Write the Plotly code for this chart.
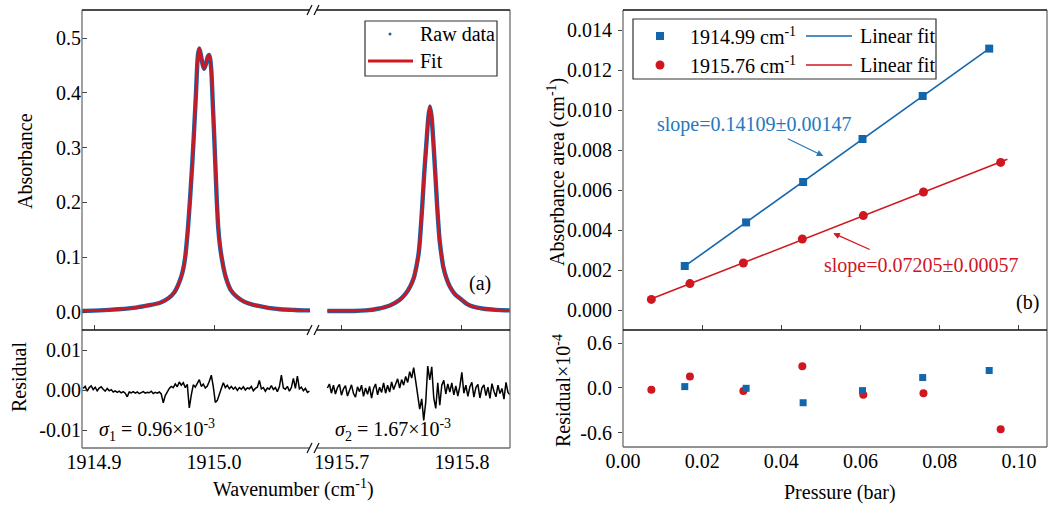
import numpy as np
import plotly.graph_objects as go

W, H = 1049, 509
FONT = "Liberation Serif, Times New Roman, serif"
BLUE = "#1466ac"
BLUE_T = "#2478bd"
RED = "#d0161e"

# ---------------- panel (a): spectrum ----------------
wn_left = [1914.890, 1914.905, 1914.920, 1914.935, 1914.945, 1914.955, 1914.962, 1914.967,
           1914.971, 1914.974, 1914.976, 1914.978, 1914.980, 1914.982, 1914.9835, 1914.985,
           1914.986, 1914.9868, 1914.9878, 1914.9890, 1914.9905, 1914.9918, 1914.9932,
           1914.9948, 1914.9958, 1914.9968, 1914.9978, 1914.9988, 1915.0000, 1915.0011,
           1915.0022, 1915.0035, 1915.0050, 1915.0065, 1915.0085, 1915.0106, 1915.0140,
           1915.0189, 1915.0250, 1915.0328, 1915.0400, 1915.0467, 1915.0550, 1915.0650,
           1915.0750, 1915.0800]
abs_left = [0.002, 0.003, 0.005, 0.008, 0.012, 0.017, 0.025, 0.036,
            0.054, 0.075, 0.100, 0.145, 0.205, 0.275, 0.335, 0.400,
            0.450, 0.472, 0.481, 0.470, 0.452, 0.444, 0.452,
            0.466, 0.469, 0.462, 0.440, 0.390, 0.330, 0.270,
            0.210, 0.155, 0.120, 0.098, 0.075, 0.058, 0.040,
            0.028, 0.019, 0.013, 0.010, 0.007, 0.005, 0.004,
            0.003, 0.003]

wn_right = [1915.688, 1915.700, 1915.710, 1915.720, 1915.730, 1915.740, 1915.748, 1915.753,
            1915.757, 1915.760, 1915.762, 1915.764, 1915.765, 1915.7669, 1915.7686, 1915.7706,
            1915.7720, 1915.7733, 1915.7747, 1915.7761, 1915.7778, 1915.7794, 1915.7814,
            1915.7830, 1915.7844, 1915.7870, 1915.7900, 1915.7940, 1915.7983, 1915.8040,
            1915.8094, 1915.8180, 1915.8280, 1915.8400]
abs_right = [0.002, 0.002, 0.002, 0.003, 0.006, 0.012, 0.022, 0.033,
             0.047, 0.063, 0.082, 0.108, 0.131, 0.192, 0.253, 0.314,
             0.355, 0.375, 0.357, 0.314, 0.253, 0.192, 0.131,
             0.103, 0.083, 0.062, 0.046, 0.033, 0.025, 0.015,
             0.0097, 0.006, 0.004, 0.003]

# residuals (x 1e-3), sampled on a uniform grid in each window
res_left_start, res_left_end = 1914.891, 1915.0795
res_left = [0.4, 0.9, -0.3, 0.6, 1.0, 0.1, 0.7, -0.2, 0.5, 0.8,
            0.2, -0.3, 0.4, -0.2, 0.1, -0.5, -0.2, -0.6, -0.3, -0.7,
            -0.4, -0.8, -1.7, -0.5, -0.7, -0.4, -0.8, -0.5, -0.9, -0.6,
            -0.4, -0.8, -0.6, -0.7, -0.3, -0.9, -0.6, -0.8, -0.5, -1.0,
            -3.2, -1.4, -0.3, 0.4, 0.9, 0.6, 1.5, 0.8, 2.0, 1.2,
            1.8, 0.6, 1.4, -4.5, -1.2, 1.3, 0.7, 1.8, 2.6, 0.9,
            1.5, 0.5, 1.0, 2.2, 3.7, 0.8, -3.1, -2.6, -0.8, 0.4,
            1.8, 0.6, 1.2, 0.3, 0.9, 0.2, 0.7, -0.1, 0.6, 0.2,
            0.8, 0.0, 0.5, 0.3, 0.9, -0.2, 0.4, 0.7, 2.4, 0.3,
            0.6, -0.3, 0.5, 0.2, 1.1, 0.1, 0.6, -0.4, 0.8, 3.7,
            0.5, 0.2, 0.9, -0.3, 0.6, 2.9, 0.4, 3.5, 0.3, 0.7,
            -0.2, 0.4, -0.6, -0.3]
res_right_start, res_right_end = 1915.688, 1915.840
res_right = [0.5, 1.5, -0.8, 1.2, -1.0, 0.6, 1.4, -1.3, 0.3, 1.1,
             -1.5, 0.2, 1.3, -0.9, -1.8, 0.8, -0.4, 1.2, -1.6, 0.5,
             -1.1, 0.9, -2.0, 0.4, 1.5, -1.2, 0.7, -0.6, 1.8, -0.8,
             1.2, -0.5, 2.0, 0.1, 1.6, 2.8, 0.5, 2.6, 1.2, 3.4,
             1.9, 4.6, 3.0, 5.6, 2.2, -1.5, -4.8, -2.2, -7.6, -3.0,
             6.0, 2.5, 5.8, -2.0, -4.6, 1.8, -3.8, 1.2, 2.4, -1.0,
             1.5, -0.5, 1.8, -1.2, 1.0, -1.5, 0.9, 4.4, -0.8, 1.2,
             -1.6, 0.8, 1.9, -1.8, 0.6, 1.4, -2.0, 0.5, 1.3, -1.4,
             0.7, -2.1, 1.6, -0.3, -1.7, 1.2, -0.9, 0.4, -2.3, 1.9,
             -0.6, -1.2]

left_ticks = [1914.9, 1915.0]
right_ticks = [1915.7, 1915.8]
abs_ticks = [0.0, 0.1, 0.2, 0.3, 0.4, 0.5]
res_ticks = [-0.01, 0.0, 0.01]
res_tick_text = ["-0.01", "0.00", "0.01"]

# ---------------- panel (b): absorbance area vs pressure ----------------
p_blue = [0.0156, 0.0311, 0.0455, 0.0605, 0.0757, 0.0925]
area_blue = [0.00220, 0.00438, 0.00640, 0.00855, 0.01070, 0.01307]
resid_blue = [0.018, -0.005, -0.199, -0.036, 0.140, 0.235]

p_red = [0.00716, 0.0169, 0.0304, 0.0453, 0.0607, 0.0759, 0.0954]
area_red = [0.00053, 0.00132, 0.00235, 0.00355, 0.00472, 0.00590, 0.00738]
resid_red = [-0.023, 0.153, -0.040, 0.293, -0.090, -0.072, -0.555]

fit_blue_x = [0.0156, 0.0925]
fit_red_x = [0.0072, 0.0971]

p_ticks = [0.00, 0.02, 0.04, 0.06, 0.08, 0.10]
area_ticks = [0.000, 0.002, 0.004, 0.006, 0.008, 0.010, 0.012, 0.014]
rb_ticks = [-0.6, 0.0, 0.6]
rb_tick_text = ["-0.6", "0.0", "0.6"]

# ---------------- geometry helpers (pixels -> paper) ----------------
def px(x):
    return x / W

def py(y):
    return 1 - y / H

LA, LB, LC = 82, 313, 510      # left panel: left edge, break, right edge
RA, RC = 623, 1047             # right panel
TOP, MID, BOT_L, BOT_R = 10, 330, 448, 447

fig = go.Figure()

# spectrum: raw (blue, broad) under fit (red)
for xs, ys, xa in [(wn_left, abs_left, "x"), (wn_right, abs_right, "x2")]:
    fig.add_trace(go.Scatter(x=xs, y=ys, xaxis=xa, yaxis="y", mode="lines",
                             line=dict(color=BLUE, width=4.4, shape="spline", smoothing=0.6),
                             name="Raw data", showlegend=False))
    fig.add_trace(go.Scatter(x=xs, y=ys, xaxis=xa, yaxis="y", mode="lines",
                             line=dict(color=RED, width=2.8, shape="spline", smoothing=0.6),
                             name="Fit", showlegend=False))

rl = np.array(res_left) * 1e-3
rr = np.array(res_right) * 1e-3
fig.add_trace(go.Scatter(x=np.linspace(res_left_start, res_left_end, len(rl)), y=rl,
                         xaxis="x3", yaxis="y2", mode="lines",
                         line=dict(color="black", width=1.5), showlegend=False))
fig.add_trace(go.Scatter(x=np.linspace(res_right_start, res_right_end, len(rr)), y=rr,
                         xaxis="x4", yaxis="y2", mode="lines",
                         line=dict(color="black", width=1.5), showlegend=False))

# panel b: linear fits
kb = np.polyfit(p_blue, area_blue, 1)
kr = np.polyfit(p_red, area_red, 1)
fig.add_trace(go.Scatter(x=fit_blue_x, y=np.polyval(kb, fit_blue_x), xaxis="x5", yaxis="y3",
                         mode="lines", line=dict(color=BLUE, width=1.6), showlegend=False))
fig.add_trace(go.Scatter(x=fit_red_x, y=np.polyval(kr, fit_red_x), xaxis="x5", yaxis="y3",
                         mode="lines", line=dict(color=RED, width=1.6), showlegend=False))
fig.add_trace(go.Scatter(x=p_blue, y=area_blue, xaxis="x5", yaxis="y3", mode="markers",
                         marker=dict(symbol="square", size=8, color=BLUE), showlegend=False))
fig.add_trace(go.Scatter(x=p_red, y=area_red, xaxis="x5", yaxis="y3", mode="markers",
                         marker=dict(symbol="circle", size=9, color=RED), showlegend=False))
fig.add_trace(go.Scatter(x=p_red, y=resid_red, xaxis="x6", yaxis="y4", mode="markers",
                         marker=dict(symbol="circle", size=8, color=RED), showlegend=False))
fig.add_trace(go.Scatter(x=p_blue, y=resid_blue, xaxis="x6", yaxis="y4", mode="markers",
                         marker=dict(symbol="square", size=7, color=BLUE), showlegend=False))

tickfont = dict(family=FONT, size=20, color="black")
common = dict(showgrid=False, zeroline=False, showline=False, tickfont=tickfont,
              tickcolor="#444", ticklen=5, tickwidth=1.2, automargin=False)

fig.update_layout(
    width=W, height=H, margin=dict(l=0, r=0, t=0, b=0, autoexpand=False),
    plot_bgcolor="white", paper_bgcolor="white", showlegend=False,
    font=dict(family=FONT, size=20, color="black"),
    xaxis=dict(domain=[px(LA), px(LB)], range=[1914.89, 1915.0825], anchor="y",
               tickvals=left_ticks, ticks="inside", showticklabels=False, **common),
    xaxis2=dict(domain=[px(LB), px(LC)], range=[1915.676, 1915.84], anchor="y",
                tickvals=right_ticks, ticks="inside", showticklabels=False, **common),
    xaxis3=dict(domain=[px(LA), px(LB)], range=[1914.89, 1915.0825], anchor="y2",
                tickvals=left_ticks, tickformat=".1f", ticks="", **common),
    xaxis4=dict(domain=[px(LB), px(LC)], range=[1915.676, 1915.84], anchor="y2",
                tickvals=right_ticks, tickformat=".1f", ticks="", **common),
    yaxis=dict(domain=[py(MID), py(TOP)], range=[-0.0328, 0.5511], anchor="x",
               tickvals=abs_ticks, tickformat=".1f", ticks="inside", **common),
    yaxis2=dict(domain=[py(BOT_L), py(MID)], range=[-0.0145, 0.015], anchor="x3",
                tickvals=res_ticks, ticktext=res_tick_text, ticks="inside", **common),
    xaxis5=dict(domain=[px(RA), px(RC)], range=[0, 0.1071], anchor="y3",
                tickvals=p_ticks, ticks="inside", showticklabels=False, **common),
    yaxis3=dict(domain=[py(MID), py(TOP)], range=[-0.001, 0.015], anchor="x5",
                tickvals=area_ticks, tickformat=".3f", ticks="outside", ticklabelstandoff=2,
                **dict(common, ticklen=4)),
    xaxis6=dict(domain=[px(RA), px(RC)], range=[0, 0.1071], anchor="y4",
                tickvals=p_ticks, tickformat=".2f", ticks="", **common),
    yaxis4=dict(domain=[py(BOT_R), py(MID)], range=[-0.795, 0.78], anchor="x6",
                tickvals=rb_ticks, ticktext=rb_tick_text, ticks="outside", ticklabelstandoff=2,
                **dict(common, ticklen=4)),
)

shapes = []
def seg(x0, y0, x1, y1, color, width=1.3):
    shapes.append(dict(type="line", xref="paper", yref="paper",
                       x0=px(x0), y0=py(y0), x1=px(x1), y1=py(y1),
                       line=dict(color=color, width=width)))

GRAY = "#6e6e6e"
# left frame
seg(LA, TOP, LA, BOT_L, GRAY); seg(LC, TOP, LC, BOT_L, GRAY)
seg(LA, BOT_L, LC, BOT_L, GRAY)
seg(LA, TOP, LC, TOP, "#111"); seg(LA, MID, LC, MID, "#111")
# right frame
seg(RA, TOP, RA, BOT_R, GRAY); seg(RC, TOP, RC, BOT_R, GRAY)
seg(RA, BOT_R, RC, BOT_R, GRAY)
seg(RA, TOP, RC, TOP, "#111"); seg(RA, MID, RC, MID, "#111")
# axis-break marks
for yb in (TOP, MID, BOT_L):
    shapes.append(dict(type="rect", xref="paper", yref="paper",
                       x0=px(LB - 4), x1=px(LB + 4), y0=py(yb + 1), y1=py(yb - 1),
                       fillcolor="white", line=dict(width=0)))
    seg(LB - 6, yb + 5, LB - 1, yb - 5, "#111", 1.2)
    seg(LB + 1, yb + 5, LB + 6, yb - 5, "#111", 1.2)

# left legend
shapes.append(dict(type="rect", xref="paper", yref="paper", x0=px(365), x1=px(497),
                   y0=py(76), y1=py(21), line=dict(color="#333", width=1.2), fillcolor="white"))
shapes.append(dict(type="circle", xref="paper", yref="paper", x0=px(388.5), x1=px(391.5),
                   y0=py(35.5), y1=py(32.5), fillcolor=BLUE, line=dict(width=0)))
seg(368, 61, 413, 61, RED, 2.8)
# right legend
shapes.append(dict(type="rect", xref="paper", yref="paper", x0=px(633), x1=px(936),
                   y0=py(79), y1=py(19), line=dict(color="#333", width=1.2), fillcolor="white"))
shapes.append(dict(type="rect", xref="paper", yref="paper", x0=px(656), x1=px(664),
                   y0=py(40), y1=py(32), fillcolor=BLUE, line=dict(width=0)))
shapes.append(dict(type="circle", xref="paper", yref="paper", x0=px(655.5), x1=px(664.5),
                   y0=py(69.5), y1=py(60.5), fillcolor=RED, line=dict(width=0)))
seg(806, 36, 852, 36, BLUE, 1.6)
seg(806, 65, 852, 65, RED, 1.6)
fig.update_layout(shapes=shapes)

ann = []
def text(x, y, s, xanchor="center", color="black", angle=0, size=20):
    ann.append(dict(xref="paper", yref="paper", x=px(x), y=py(y), text=s, showarrow=False,
                    xanchor=xanchor, yanchor="middle", textangle=angle,
                    font=dict(family=FONT, size=size, color=color)))

text(418, 34, "Raw data", "left")
text(418, 61, "Fit", "left")
text(688, 36, "1914.99 cm<sup>-1</sup>", "left")
text(688, 65, "1915.76 cm<sup>-1</sup>", "left")
text(858, 36, "Linear fit", "left")
text(858, 65, "Linear fit", "left")
text(480, 283, "(a)")
text(1027, 302, "(b)")
text(97, 430, "<i>σ</i><sub>1</sub> = 0.96×10<sup>-3</sup>", "left")
text(333, 430, "<i>σ</i><sub>2</sub> = 1.67×10<sup>-3</sup>", "left")
text(25, 161, "Absorbance", angle=-90)
text(19, 377, "Residual", angle=-90)
text(293, 488, "Wavenumber (cm<sup>-1</sup>)")
text(556, 172, "Absorbance area (cm<sup>-1</sup>)", angle=-90)
text(562, 391, "Residual×10<sup>-4</sup>", angle=-90)
text(840, 492, "Pressure (bar)")
text(754, 124, "slope=0.14109±0.00147", color=BLUE_T)
text(921, 265, "slope=0.07205±0.00057", color=RED)

# arrows pointing to the fit lines
ann.append(dict(xref="x5", yref="y3", x=0.0506, y=0.0077, ax=-37, ay=-18, text="",
                showarrow=True, arrowhead=2, arrowsize=1, arrowwidth=1.3, arrowcolor=BLUE_T))
ann.append(dict(xref="x5", yref="y3", x=0.0531, y=0.00384, ax=38, ay=17, text="",
                showarrow=True, arrowhead=2, arrowsize=1, arrowwidth=1.3, arrowcolor=RED))
fig.update_layout(annotations=ann)

fig.write_html("out.html")
